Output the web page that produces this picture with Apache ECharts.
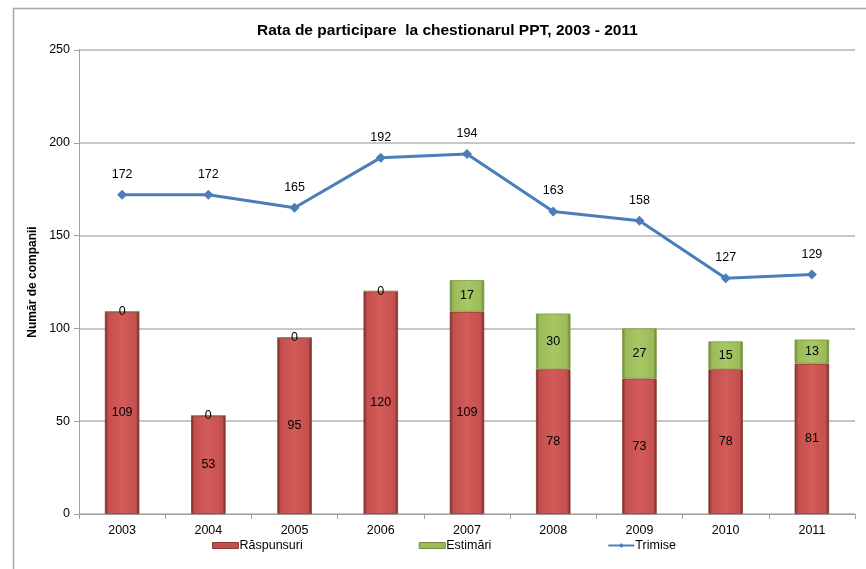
<!DOCTYPE html>
<html>
<head>
<meta charset="utf-8">
<script src="https://cdn.jsdelivr.net/npm/echarts@6/dist/echarts.min.js"></script>
<style>
  html, body { margin: 0; padding: 0; background: #fff; }
  #chart { width: 866px; height: 569px; }
</style>
</head>
<body>
<div id="chart"></div>
<script>
var years = ['2003', '2004', '2005', '2006', '2007', '2008', '2009', '2010', '2011'];
var raspunsuri = [109, 53, 95, 120, 109, 78, 73, 78, 81];
var estimari = [0, 0, 0, 0, 17, 30, 27, 15, 13];
var trimise = [172, 172, 165, 192, 194, 163, 158, 127, 129];
var yTicks = [0, 50, 100, 150, 200, 250];

var chart = echarts.init(document.getElementById('chart'));

// gradient orizontal pentru efectul de bevel
function bevel(dark, mid, light) {
  return new echarts.graphic.LinearGradient(0, 0, 1, 0, [
    { offset: 0, color: dark },
    { offset: 0.1, color: mid },
    { offset: 0.5, color: light },
    { offset: 0.9, color: mid },
    { offset: 1, color: dark }
  ]);
}

var font = 'Liberation Sans, Arial, sans-serif';

var option = {
  backgroundColor: '#fff',
  textStyle: { fontFamily: font },
  title: {
    text: 'Rata de participare  la chestionarul PPT, 2003 - 2011',
    left: 252,
    top: 18,
    textStyle: { fontSize: 15.5, fontWeight: 'bold', color: '#000', fontFamily: font }
  },
  graphic: [{
    type: 'rect',
    shape: { x: 13.5, y: 8.5, width: 900, height: 600 },
    style: { fill: null, stroke: '#a6a6a6', lineWidth: 1.5 },
    silent: true
  }],
  legend: {
    bottom: 12,
    left: 207,
    itemGap: 116,
    itemWidth: 26,
    itemHeight: 6,
    textStyle: { fontSize: 12.5, color: '#000', fontFamily: font, padding: [0, 0, 0, -4] },
    data: [
      { name: 'Răspunsuri', icon: 'rect', itemStyle: { color: '#c0504d', borderColor: '#8c3836', borderWidth: 1 } },
      { name: 'Estimări', icon: 'rect', itemStyle: { color: '#9bbb59', borderColor: '#71893f', borderWidth: 1 } },
      { name: 'Trimise' }
    ]
  },
  grid: { left: 79, right: 11, top: 50, bottom: 55 },
  xAxis: {
    type: 'category',
    data: years,
    axisLine: { lineStyle: { color: '#a0a0a0', width: 1 } },
    axisTick: { show: true, alignWithLabel: false, length: 5, lineStyle: { color: '#a0a0a0' } },
    axisLabel: { color: '#000', fontSize: 12.5, margin: 10, fontFamily: font }
  },
  yAxis: {
    type: 'value',
    min: yTicks[0],
    max: yTicks[yTicks.length - 1],
    interval: 50,
    name: 'Număr de companii',
    nameLocation: 'middle',
    nameGap: 40,
    nameTextStyle: { fontSize: 12, fontWeight: 'bold', color: '#000', fontFamily: font },
    axisLine: { show: true, lineStyle: { color: '#a0a0a0' } },
    axisTick: { show: true, length: 5, lineStyle: { color: '#a0a0a0' } },
    axisLabel: { color: '#000', fontSize: 12.5, margin: 9, fontFamily: font },
    splitLine: { lineStyle: { color: '#b4b4b4', width: 1.5 } }
  },
  series: [
    {
      name: 'Răspunsuri',
      type: 'bar',
      stack: 'total',
      barWidth: '40%',
      data: raspunsuri,
      itemStyle: {
        color: bevel('#6a2624', '#c4504e', '#d35b58'),
        borderColor: '#8c3836',
        borderWidth: 0.8
      },
      label: { show: true, position: 'inside', color: '#000', fontSize: 12.5, fontFamily: font }
    },
    {
      name: 'Estimări',
      type: 'bar',
      stack: 'total',
      data: estimari,
      itemStyle: {
        color: bevel('#627c32', '#9bbb59', '#a8c765'),
        borderColor: '#7d9a45',
        borderWidth: 0.8
      },
      label: { show: true, position: 'inside', color: '#000', fontSize: 12.5, fontFamily: font }
    },
    {
      name: 'Trimise',
      type: 'line',
      data: trimise,
      symbol: 'diamond',
      symbolSize: 10,
      itemStyle: { color: '#4a7ebb' },
      lineStyle: { color: '#4a7ebb', width: 3 },
      label: { show: true, position: 'top', distance: 9, color: '#000', fontSize: 12.5, fontFamily: font },
      z: 5
    }
  ]
};

chart.setOption(option);
</script>
</body>
</html>
